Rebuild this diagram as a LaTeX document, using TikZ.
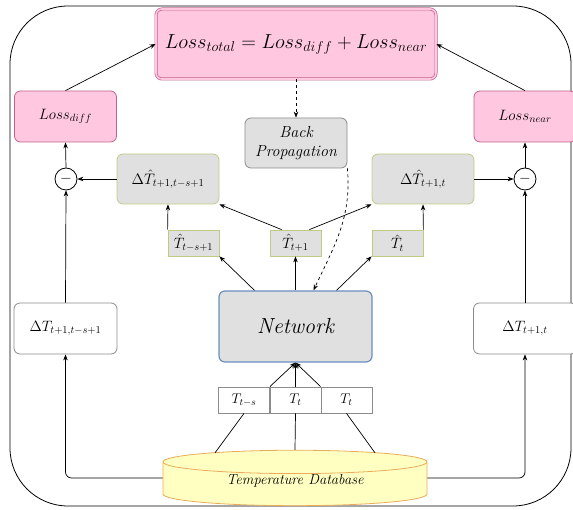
\documentclass[tikz,border=0pt]{standalone}
\usepackage{fix-cm}
\usepackage{xcolor}
\definecolor{lossfill}{HTML}{FFC8E0}
\definecolor{lossline}{HTML}{C0648C}
\definecolor{cellgrey}{HTML}{E0E0E0}
\definecolor{hatline}{HTML}{BFCB85}
\definecolor{netline}{HTML}{6C8EBF}
\definecolor{greyline}{HTML}{8C8C8C}
\definecolor{dbfill}{HTML}{FFFFC2}
\definecolor{dbline}{HTML}{E8AC5A}
\usepackage{tikz}
\usetikzlibrary{arrows.meta,shapes.geometric}
\tikzset{
  >={Stealth[length=6pt,width=4.5pt]},
  txt/.style={font=\fontsize{15}{17}\selectfont,inner sep=0pt,align=center},
  frame/.style={draw=black,line width=0.8pt,rounded corners=58pt},
  loss/.style={txt,draw=lossline,fill=lossfill,line width=0.8pt,rounded corners=6pt,
               minimum width=102pt,minimum height=51pt},
  losstot/.style={loss,double=lossfill,double distance=1.6pt,line width=0.7pt,
                  font=\fontsize{20.3}{24}\selectfont,minimum width=280pt,minimum height=70pt},
  bpbox/.style={txt,draw=greyline,fill=cellgrey,line width=0.8pt,rounded corners=6pt,
                font=\fontsize{16}{19}\selectfont\itshape,minimum width=102pt,minimum height=50pt},
  dhat/.style={txt,draw=hatline,fill=cellgrey,line width=0.8pt,rounded corners=6pt,
               font=\fontsize{15.2}{17}\selectfont,minimum width=102pt,minimum height=50pt},
  that/.style={txt,draw=hatline,fill=cellgrey,line width=0.8pt,
               minimum width=51pt,minimum height=26pt},
  netbox/.style={txt,draw=netline,fill=cellgrey,line width=1.2pt,rounded corners=6pt,
                 font=\fontsize{21.8}{25}\selectfont\itshape,minimum width=153pt,minimum height=71pt},
  dbox/.style={txt,draw=greyline,fill=white,line width=0.8pt,rounded corners=6pt,
               minimum width=103pt,minimum height=51pt},
  inp/.style={txt,draw=greyline,fill=white,line width=0.8pt,minimum width=51pt,minimum height=26pt,
              font=\fontsize{14}{16}\selectfont},
  minus/.style={txt,circle,draw=black,line width=0.8pt,fill=white,minimum size=22pt},
  db/.style={txt,cylinder,shape border rotate=90,aspect=0.17,draw=dbline,line width=0.8pt,
             cylinder uses custom fill,cylinder body fill=dbfill,cylinder end fill=dbfill,
             font=\fontsize{14.5}{17}\selectfont\itshape,text depth=10pt,
             minimum width=264pt,minimum height=55pt},
  link/.style={->,line width=0.7pt},
  plain/.style={line width=0.7pt},
}
\begin{document}
\begin{tikzpicture}[x=1pt,y=-1pt]
  \useasboundingbox (0,0) rectangle (573,510);
  \draw[frame] (10,6) rectangle (571,506);

  % losses and back propagation
  \node[losstot] (ltot) at (296,44) {$Loss_{total}=Loss_{diff}+Loss_{near}$};
  \node[loss] (ldiff) at (65.5,116.5) {$Loss_{diff}$};
  \node[loss] (lnear) at (525,116.5) {$Loss_{near}$};
  \node[bpbox] (bp) at (296,143) {Back\\Propagation};
  \node[minus] (mdiff) at (66,179) {$-$};
  \node[minus] (mnear) at (525,179) {$-$};

  % predicted differences
  \node[dhat] (dhl) at (168,179) {$\Delta\hat{T}_{t+1,t-s+1}$};
  \node[dhat] (dhr) at (423,179) {$\Delta\hat{T}_{t+1,t}$};
  \node[that] (tl) at (193.5,243) {$\hat{T}_{t-s+1}$};
  \node[that] (tm) at (295.5,243) {$\hat{T}_{t+1}$};
  \node[that] (tr) at (397.5,243) {$\hat{T}_t$};

  \node[netbox] (net) at (295.5,326.5) {Network};

  % true differences
  \node[dbox] (dl) at (65.5,328.5) {$\Delta T_{t+1,t-s+1}$};
  \node[dbox] (dr) at (525,328.5) {$\Delta T_{t+1,t}$};

  % inputs and database
  \node[inp] (i1) at (244,400) {$T_{t-s}$};
  \node[inp] (i2) at (295.5,400) {$T_t$};
  \node[inp] (i3) at (346.5,400) {$T_t$};
  \node[db] (db) at (295,484) {Temperature Database};

  \draw[link] (ldiff.north) -- (ltot.west);
  \draw[link] (lnear.north) -- (ltot.east);
  \draw[link,dashed] (ltot.south) -- (bp.north);
  \draw[link] (mdiff.north) -- (ldiff.south);
  \draw[link] (mnear.north) -- (lnear.south);
  \draw[link] (dhl.west) -- (mdiff.east);
  \draw[link] (dhr.east) -- (mnear.west);
  \draw[link] (dl.north) -- (mdiff.south);
  \draw[link] (dr.north) -- (mnear.south);

  \draw[link] (tl.north west) -- (dhl.south);
  \draw[link] (tr.north east) -- (dhr.south);
  \draw[link] ([xshift=12pt]tm.north west) -- (dhl.south east);
  \draw[link] ([xshift=-12pt]tm.north east) -- (dhr.south west);
  \draw[link] ([xshift=-41pt]net.north) -- (tl.south east);
  \draw[link] (net.north) -- (tm.south);
  \draw[link] ([xshift=41pt]net.north) -- (tr.south west);
  \draw[link,dashed] (bp.south east) to[out=-85,in=65] ([xshift=18pt]net.north);

  \draw[link] (i1.north east) -- (net.south);
  \draw[link] (i2.north) -- (net.south);
  \draw[link] (i3.north west) -- (net.south);
  \draw[plain] ([xshift=-80pt,yshift=-3pt]db.north) -- (i1.south);
  \draw[plain] (db.north) -- (i2.south);
  \draw[plain] ([xshift=80pt,yshift=-3pt]db.north) -- (i3.south);
  \draw[link,rounded corners=6pt] ([yshift=6pt]db.west) -| (dl.south);
  \draw[link,rounded corners=6pt] ([yshift=6pt]db.east) -| (dr.south);
\end{tikzpicture}
\end{document}
